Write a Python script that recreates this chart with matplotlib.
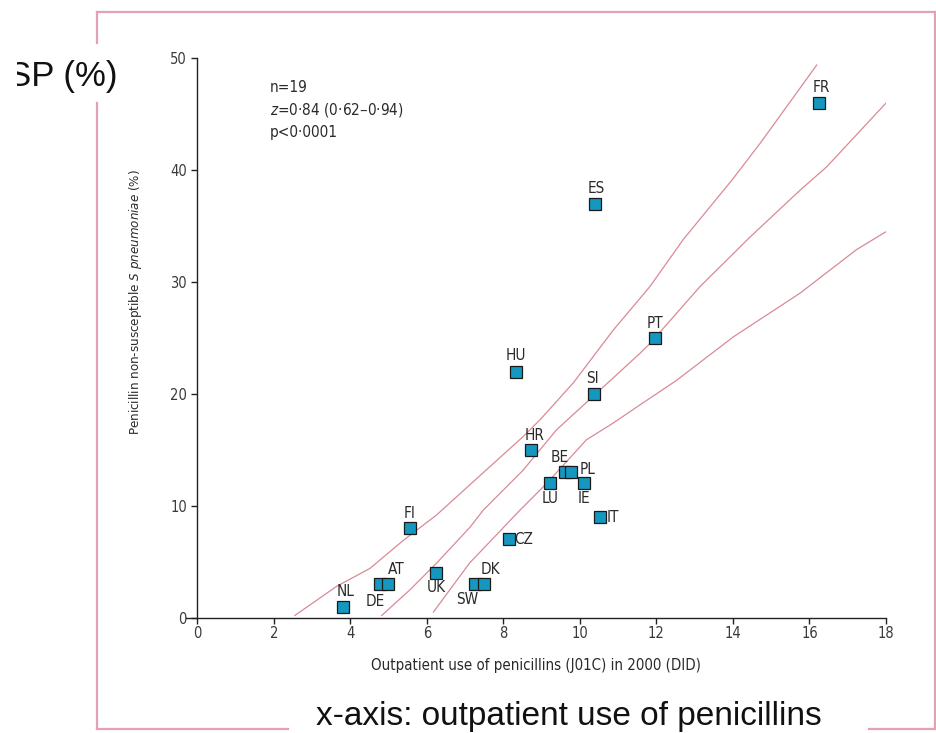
import matplotlib.pyplot as plt
from matplotlib.lines import Line2D
from matplotlib.patches import Rectangle

# countries: outpatient penicillin use (DID) vs penicillin non-susceptible S pneumoniae (%)
countries = ['NL', 'DE', 'AT', 'UK', 'SW', 'DK', 'CZ', 'FI', 'LU', 'IE',
             'BE', 'PL', 'IT', 'HR', 'HU', 'SI', 'PT', 'ES', 'FR']
use = [3.82, 4.78, 4.99, 6.25, 7.26, 7.50, 8.14, 5.56, 9.22, 10.11,
       9.62, 9.76, 10.53, 8.71, 8.33, 10.38, 11.95, 10.39, 16.24]
pnsp = [1, 3, 3, 4, 3, 3, 7, 8, 12, 12,
        13, 13, 9, 15, 22, 20, 25, 37, 46]

# regression line and confidence band
fit_x = [4.82, 5.56, 6.26, 7.13, 7.47, 8.52, 9.39, 10.35, 11.56, 11.83, 13.14, 14.44, 15.75, 16.45, 18.0]
fit_y = [0.2, 2.5, 4.9, 8.1, 9.6, 13.2, 16.8, 19.8, 23.6, 24.5, 29.6, 34.0, 38.2, 40.3, 46.0]
upper_x = [2.55, 3.64, 4.51, 5.38, 6.26, 7.13, 8.52, 8.96, 9.83, 10.87, 11.83, 12.70, 13.97, 14.71, 16.19]
upper_y = [0.2, 2.8, 4.4, 6.9, 9.2, 11.9, 16.2, 17.7, 21.0, 25.7, 29.6, 33.8, 39.1, 42.4, 49.4]
lower_x = [6.17, 7.12, 8.43, 9.13, 10.17, 10.87, 11.56, 12.52, 14.01, 15.75, 17.23, 18.0]
lower_y = [0.5, 4.9, 9.6, 12.0, 15.9, 17.4, 19.0, 21.2, 25.1, 29.0, 32.9, 34.5]

# label offsets in pixels (dx, dy)
label_offsets = {
    'NL': (2, 15), 'DE': (-5, -17), 'AT': (8, 15), 'UK': (0, -15),
    'SW': (-8, -15), 'DK': (6, 15), 'CZ': (15, 0), 'FI': (0, 15),
    'LU': (0, -15), 'IE': (0, -15), 'BE': (-6, 15), 'PL': (17, 3),
    'IT': (13, 0), 'HR': (4, 14), 'HU': (0, 16), 'SI': (-2, 15),
    'PT': (0, 15), 'ES': (1, 15), 'FR': (3, 16),
}

W, H = 936, 733
plt.rcParams['font.family'] = ['DejaVu Sans']
plt.rcParams['font.stretch'] = 'condensed'
plt.rcParams['mathtext.fontset'] = 'dejavusans'

fig = plt.figure(figsize=(W / 100, H / 100), dpi=100)

# pink slide frame with gaps behind the big texts
pink = '#e3a2b4'
def seg(x0, y0, x1, y1):
    fig.add_artist(Line2D([x0 / W, x1 / W], [1 - y0 / H, 1 - y1 / H],
                          color=pink, lw=1.6, transform=fig.transFigure))
seg(97, 12, 936, 12)
seg(935, 12, 935, 729)
seg(97, 12, 97, 43)
seg(97, 103, 97, 729)
seg(97, 729, 288, 729)
seg(869, 729, 936, 729)

x_lo, x_hi = -0.3, 18
px0 = 197.3 + x_lo * 38.26
ax = fig.add_axes([px0 / W, 1 - 617.7 / H, (886 - px0) / W, (617.7 - 58.3) / H])
ax.set_xlim(x_lo, x_hi)
ax.set_ylim(0, 50)
ax.patch.set_alpha(0)
for s in ['top', 'right']:
    ax.spines[s].set_visible(False)
ax.spines['left'].set_position(('data', 0))
ax.spines['left'].set_bounds(0, 50)
for s in ['left', 'bottom']:
    ax.spines[s].set_linewidth(1.0)
    ax.spines[s].set_color('#222222')

ax.set_xticks(range(0, 19, 2))
ax.set_yticks(range(0, 51, 10))
ax.tick_params(direction='out', length=4, width=1, colors='#222222',
               labelcolor='#3a3a3a', labelsize=10.5)
ax.tick_params(axis='x', pad=2)

line_col = '#d98a94'
ax.plot(fit_x, fit_y, color=line_col, lw=0.9)
ax.plot(upper_x, upper_y, color=line_col, lw=0.9)
ax.plot(lower_x, lower_y, color=line_col, lw=0.9)

ax.plot(use, pnsp, linestyle='none', marker='s', markersize=8.5,
        markerfacecolor='#1597c0', markeredgecolor='#1a1a1a', markeredgewidth=0.9,
        zorder=3)

for c, xv, yv in zip(countries, use, pnsp):
    dx, dy = label_offsets[c]
    ax.annotate(c, (xv, yv), xytext=(dx, dy), textcoords='offset pixels',
                ha='center', va='center', fontsize=11, color='#2a2a2a')

ax.text(270 / W, 1 - 88 / H, 'n=19', transform=fig.transFigure,
        fontsize=11, color='#2a2a2a', va='center')
ax.text(270 / W, 1 - 110 / H, r'$\it{z}$=0·84 (0·62–0·94)', transform=fig.transFigure,
        fontsize=11, color='#2a2a2a', va='center')
ax.text(270 / W, 1 - 132 / H, 'p<0·0001', transform=fig.transFigure,
        fontsize=11, color='#2a2a2a', va='center')

ax.set_xlabel('Outpatient use of penicillins (J01C) in 2000 (DID)',
              fontsize=10.8, color='#2a2a2a', labelpad=12)
fig.text(136 / W, 1 - 302 / H, r'Penicillin non-susceptible $\it{S\ pneumoniae}$ (%)',
         rotation=90, ha='center', va='center', fontsize=9.5, color='#2a2a2a')

# big slide texts
fig.text(117 / W, 1 - 86 / H, 'SP (%)', fontsize=25, family='Liberation Sans',
         stretch='normal', color='#111111', va='baseline', ha='right')
fig.add_artist(Rectangle((0, 0.8), 17 / W, 0.2, transform=fig.transFigure,
                         facecolor='white', edgecolor='none', zorder=10))
fig.text(569 / W, 1 - 725 / H, 'x-axis: outpatient use of penicillins', fontsize=24,
         family='Liberation Sans', stretch='normal', color='#111111',
         va='baseline', ha='center')

fig.savefig('out.png', dpi=100)
